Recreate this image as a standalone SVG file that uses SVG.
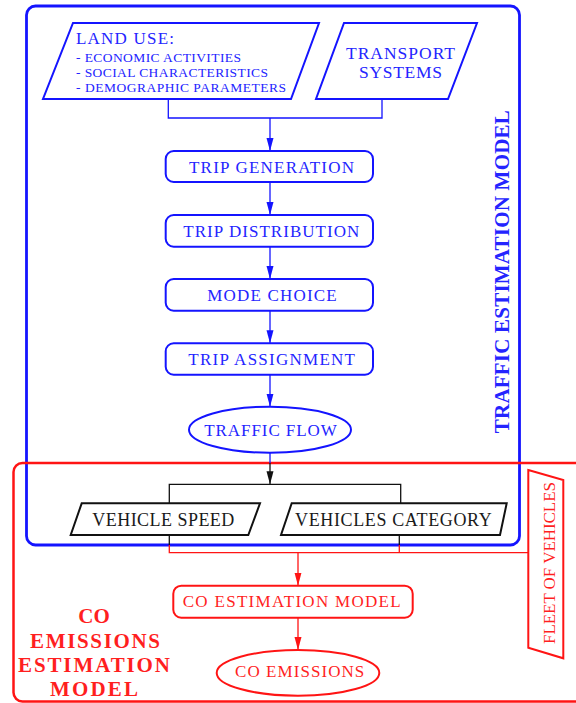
<svg xmlns="http://www.w3.org/2000/svg" width="576" height="703" viewBox="0 0 576 703" font-family="'Liberation Serif', 'DejaVu Serif', serif">
<style>
.bl{fill:none;stroke:#1414ff;stroke-width:2}
.rd{fill:none;stroke:#ff1414;stroke-width:2}
.bk{fill:none;stroke:#111;stroke-width:2}
text{font-family:'Liberation Serif','DejaVu Serif',serif}
.tb{fill:#2424ff}
.tr{fill:#ff1f1f}
.tk{fill:#1a1a1a}
.cb{stroke:#1414ff;stroke-width:1.3;fill:none}
.cr{stroke:#ff1414;stroke-width:1.3;fill:none}
.ck{stroke:#111;stroke-width:1.3;fill:none}
</style>
<defs>
<marker id="ab" markerUnits="userSpaceOnUse" markerWidth="8" markerHeight="14" refX="4" refY="13" orient="0" viewBox="0 0 8 14"><path d="M0.5,0 L4,13 L7.5,0 Z" fill="#1414ff"/></marker>
<marker id="ak" markerUnits="userSpaceOnUse" markerWidth="8" markerHeight="14" refX="4" refY="13" orient="0" viewBox="0 0 8 14"><path d="M0.5,0 L4,13 L7.5,0 Z" fill="#111"/></marker>
<marker id="ar" markerUnits="userSpaceOnUse" markerWidth="8" markerHeight="14" refX="4" refY="13" orient="0" viewBox="0 0 8 14"><path d="M0.5,0 L4,13 L7.5,0 Z" fill="#ff1414"/></marker>
</defs>

<g id="traffic-estimation-frame">
<rect x="26.5" y="6" width="493" height="539" rx="9" fill="none" stroke="#1414ff" stroke-width="2.8"/>
<text class="tb" transform="translate(509,271.7) rotate(-90)" text-anchor="middle" style="font-size:21px;font-weight:bold" textLength="323" lengthAdjust="spacing">TRAFFIC ESTIMATION MODEL</text>
</g>

<g id="co-emissions-frame">
<rect x="13.5" y="463" width="600" height="238.5" rx="9" fill="none" stroke="#ff1414" stroke-width="2.5"/>
<g class="tr" style="font-size:21px;font-weight:bold" text-anchor="middle">
<text x="94" y="623.3">CO</text>
<text x="95" y="648.3" textLength="130" lengthAdjust="spacing">EMISSIONS</text>
<text x="94" y="671.7" textLength="152" lengthAdjust="spacing">ESTIMATION</text>
<text x="94" y="696" textLength="88" lengthAdjust="spacing">MODEL</text>
</g>
</g>

<g id="connectors">
<polyline class="cb" points="168.3,99 168.3,118 382,118 382,99"/>
<line class="cb" x1="270" y1="118" x2="270" y2="151" marker-end="url(#ab)"/>
<line class="cb" x1="270" y1="182" x2="270" y2="215" marker-end="url(#ab)"/>
<line class="cb" x1="270" y1="246.7" x2="270" y2="279" marker-end="url(#ab)"/>
<line class="cb" x1="270" y1="310.7" x2="270" y2="343.3" marker-end="url(#ab)"/>
<line class="cb" x1="270" y1="374.7" x2="270" y2="406.7" marker-end="url(#ab)"/>
<line class="cb" x1="270" y1="452.7" x2="270" y2="463"/>
<line class="ck" x1="270" y1="463" x2="270" y2="484.3" marker-end="url(#ak)"/>
<polyline class="ck" points="169.3,503.3 169.3,484.3 400.7,484.3 400.7,503.3"/>
<line class="ck" x1="169.3" y1="535" x2="169.3" y2="545"/>
<line class="ck" x1="399.3" y1="535" x2="399.3" y2="545"/>
<polyline class="cr" points="169.3,545 169.3,552.7 528.3,552.7"/>
<line class="cr" x1="399.3" y1="545" x2="399.3" y2="552.7"/>
<line class="cr" x1="298" y1="552.7" x2="298" y2="585.7" marker-end="url(#ar)"/>
<line class="cr" x1="298" y1="617.7" x2="298" y2="650" marker-end="url(#ar)"/>
</g>

<g id="land-use">
<polygon class="bl" points="73,23 319,23 291,99 43,99"/>
<text class="tb" x="76" y="44.3" style="font-size:17px" textLength="98" lengthAdjust="spacing">LAND USE:</text>
<text class="tb" x="76" y="62" style="font-size:13.5px" textLength="165" lengthAdjust="spacing">- ECONOMIC ACTIVITIES</text>
<text class="tb" x="76" y="76.7" style="font-size:13.5px" textLength="192" lengthAdjust="spacing">- SOCIAL CHARACTERISTICS</text>
<text class="tb" x="76" y="91.7" style="font-size:13.5px" textLength="210" lengthAdjust="spacing">- DEMOGRAPHIC PARAMETERS</text>
</g>

<g id="transport-systems">
<polygon class="bl" points="344,23 477,23 448,99 316,99"/>
<text class="tb" x="346" y="59" style="font-size:17.5px" textLength="109" lengthAdjust="spacing">TRANSPORT</text>
<text class="tb" x="359" y="77.7" style="font-size:17.5px" textLength="83" lengthAdjust="spacing">SYSTEMS</text>
</g>

<g id="trip-generation">
<rect class="bl" x="165.7" y="151" width="207.3" height="31" rx="8"/>
<text class="tb" x="189" y="172.7" style="font-size:17px" textLength="165" lengthAdjust="spacing">TRIP GENERATION</text>
</g>

<g id="trip-distribution">
<rect class="bl" x="165.7" y="215" width="207.3" height="31.7" rx="8"/>
<text class="tb" x="183.3" y="236.7" style="font-size:17px" textLength="176" lengthAdjust="spacing">TRIP DISTRIBUTION</text>
</g>

<g id="mode-choice">
<rect class="bl" x="165.7" y="279" width="207.3" height="31.7" rx="8"/>
<text class="tb" x="207.3" y="300.7" style="font-size:17px" textLength="129.4" lengthAdjust="spacing">MODE CHOICE</text>
</g>

<g id="trip-assignment">
<rect class="bl" x="165.7" y="343.3" width="207.3" height="31.4" rx="8"/>
<text class="tb" x="188.3" y="365" style="font-size:17px" textLength="166.7" lengthAdjust="spacing">TRIP ASSIGNMENT</text>
</g>

<g id="traffic-flow">
<ellipse class="bl" cx="270" cy="429.7" rx="81" ry="23"/>
<text class="tb" x="204.3" y="435.7" style="font-size:17px" textLength="132.4" lengthAdjust="spacing">TRAFFIC FLOW</text>
</g>

<g id="vehicle-speed">
<polygon class="bk" points="81.7,503.3 260,503.3 248.3,535 70.7,535"/>
<text class="tk" x="92.3" y="526" style="font-size:18px" textLength="142" lengthAdjust="spacing">VEHICLE SPEED</text>
</g>

<g id="vehicles-category">
<polygon class="bk" points="291.7,503.3 506.7,503.3 500,535 281,535"/>
<text class="tk" x="295" y="526" style="font-size:18px" textLength="196.7" lengthAdjust="spacing">VEHICLES CATEGORY</text>
</g>

<g id="fleet-of-vehicles">
<polygon class="rd" points="528.3,470 563.3,480 563.3,658.3 528.3,647.7"/>
<text class="tr" transform="translate(555,644) rotate(-90)" style="font-size:17px" textLength="162" lengthAdjust="spacing">FLEET OF VEHICLES</text>
</g>

<g id="co-estimation-model">
<rect class="rd" x="173.3" y="585.7" width="239.4" height="32" rx="8"/>
<text class="tr" x="182.7" y="607.3" style="font-size:17px" textLength="218" lengthAdjust="spacing">CO ESTIMATION MODEL</text>
</g>

<g id="co-emissions">
<ellipse class="rd" cx="298" cy="672.9" rx="81.3" ry="22.8"/>
<text class="tr" x="235" y="676.7" style="font-size:17px" textLength="129.3" lengthAdjust="spacing">CO EMISSIONS</text>
</g>
</svg>
